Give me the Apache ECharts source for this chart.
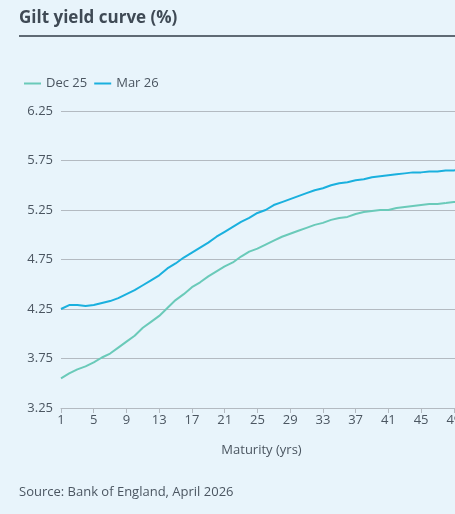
<!DOCTYPE html>
<html>
<head>
<meta charset="utf-8">
<script src="https://cdn.jsdelivr.net/npm/echarts@6/dist/echarts.min.js"></script>
<style>
  html, body { margin: 0; padding: 0; background: #e8f4fb; }
  #chart { width: 455px; height: 514px; }
</style>
</head>
<body>
<div id="chart"></div>
<script>
// maturity in years
var maturities = [];
for (var m = 1; m <= 50; m++) maturities.push(String(m));

var dec25 = [3.55, 3.60, 3.64, 3.67, 3.71, 3.76, 3.80, 3.86, 3.92, 3.98,
             4.06, 4.12, 4.18, 4.26, 4.34, 4.40, 4.47, 4.52, 4.58, 4.63,
             4.68, 4.72, 4.78, 4.83, 4.86, 4.90, 4.94, 4.98, 5.01, 5.04,
             5.07, 5.10, 5.12, 5.15, 5.17, 5.18, 5.21, 5.23, 5.24, 5.25,
             5.25, 5.27, 5.28, 5.29, 5.30, 5.31, 5.31, 5.32, 5.33, 5.33];

var mar26 = [4.25, 4.29, 4.29, 4.28, 4.29, 4.31, 4.33, 4.36, 4.40, 4.44,
             4.49, 4.54, 4.59, 4.66, 4.71, 4.77, 4.82, 4.87, 4.92, 4.98,
             5.03, 5.08, 5.13, 5.17, 5.22, 5.25, 5.30, 5.33, 5.36, 5.39,
             5.42, 5.45, 5.47, 5.50, 5.52, 5.53, 5.55, 5.56, 5.58, 5.59,
             5.60, 5.61, 5.62, 5.63, 5.63, 5.64, 5.64, 5.65, 5.65, 5.66];

var yMin = 3.25, yMax = 6.25;

var textColor = '#4b5661';
var fontFam = '"Open Sans", "Noto Sans", sans-serif';

var chart = echarts.init(document.getElementById('chart'));

var option = {
    backgroundColor: '#e8f4fb',
    textStyle: { fontFamily: fontFam, color: textColor },
    title: [
        {
            text: 'Gilt yield curve (%)',
            left: 14, top: 5,
            textStyle: { fontSize: 17, fontWeight: 'bold', color: '#3f4a55', fontFamily: fontFam }
        },
        {
            text: 'Source: Bank of England, April 2026',
            left: 14, top: 481,
            textStyle: { fontSize: 13, fontWeight: 'normal', color: textColor, fontFamily: fontFam }
        }
    ],
    graphic: [
        {
            type: 'line',
            shape: { x1: 19, y1: 36, x2: 455, y2: 36 },
            style: { stroke: '#5f6a74', lineWidth: 2 }
        }
    ],
    legend: {
        left: 19, top: 72,
        icon: 'rect',
        itemWidth: 17, itemHeight: 2, itemGap: 7,
        textStyle: { fontSize: 13, color: textColor, fontFamily: fontFam },
        data: ['Dec 25', 'Mar 26']
    },
    grid: {
        left: 61, width: 401, top: 111, bottom: 106,
        containLabel: false, outerBoundsMode: 'none'
    },
    xAxis: {
        type: 'category',
        data: maturities,
        boundaryGap: false,
        name: 'Maturity (yrs)',
        nameLocation: 'middle',
        nameGap: 36,
        nameTextStyle: { fontSize: 13, color: textColor },
        axisLine: { lineStyle: { color: '#b3bac1', width: 1 } },
        axisTick: { interval: 3, length: 5, lineStyle: { color: '#b3bac1' } },
        axisLabel: { interval: 3, fontSize: 13, color: textColor, margin: 6 },
        splitLine: { show: false }
    },
    yAxis: {
        type: 'value',
        min: yMin, max: yMax, interval: 0.25,
        axisLine: { show: false },
        axisTick: { show: false },
        axisLabel: {
            fontSize: 13, color: textColor, margin: 8,
            formatter: function (v, i) { return i % 2 ? '' : v.toFixed(2); }
        },
        splitLine: { lineStyle: { color: ['#b3bac1', 'rgba(0,0,0,0)'], width: 1 } }
    },
    series: [
        {
            name: 'Dec 25', type: 'line', data: dec25,
            symbol: 'none', color: '#6acab9',
            lineStyle: { width: 2 }
        },
        {
            name: 'Mar 26', type: 'line', data: mar26,
            symbol: 'none', color: '#1ab0de',
            lineStyle: { width: 2 }
        }
    ]
};

chart.setOption(option);
</script>
</body>
</html>
